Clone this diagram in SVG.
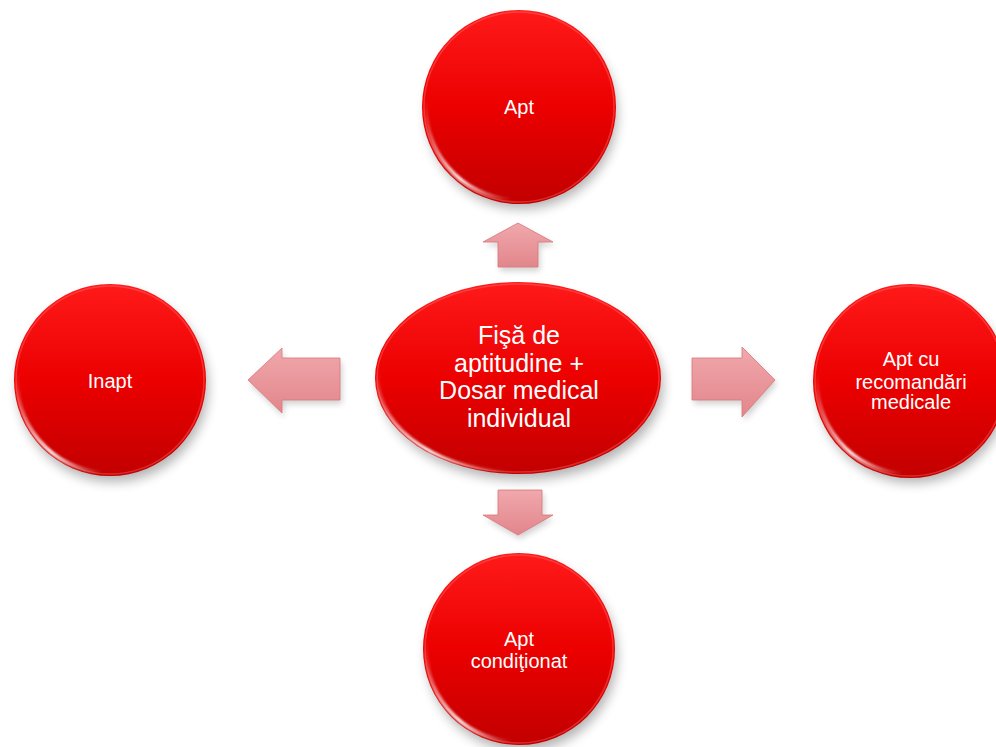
<svg xmlns="http://www.w3.org/2000/svg" width="996" height="747" viewBox="0 0 996 747">
<defs>
<linearGradient id="red" x1="0" y1="0" x2="0" y2="1">
<stop offset="0" stop-color="#ff1a1a"/>
<stop offset="0.5" stop-color="#ec0000"/>
<stop offset="1" stop-color="#c20000"/>
</linearGradient>
<linearGradient id="rim" x1="1" y1="1" x2="0" y2="0">
<stop offset="0" stop-color="#ffffff" stop-opacity="0"/>
<stop offset="0.4" stop-color="#ffffff" stop-opacity="0.95"/>
<stop offset="1" stop-color="#ffffff" stop-opacity="0"/>
</linearGradient>
<linearGradient id="pinkH" x1="0" y1="0" x2="0" y2="1">
<stop offset="0" stop-color="#f0a8ac"/>
<stop offset="1" stop-color="#e2868b"/>
</linearGradient>
<filter id="sh" x="-30%" y="-30%" width="160%" height="160%">
<feGaussianBlur stdDeviation="6"/>
</filter>
<filter id="ash" x="-30%" y="-30%" width="160%" height="160%">
<feGaussianBlur stdDeviation="3"/>
</filter>
<filter id="soft" x="-30%" y="-30%" width="160%" height="160%">
<feGaussianBlur stdDeviation="0.8"/>
</filter>
<path id="arc" d="M-8,92.6 A93,93 0 0 1 -92.6,-8"/>
</defs>
<style>
.node{fill:url(#red);}
.rim{fill:none;stroke:url(#rim);stroke-width:3.5;stroke-linecap:round;filter:url(#soft);}
.toprim{fill:none;stroke:#ff8080;stroke-opacity:0.35;stroke-width:1.5;}
.shadow{fill:#000;opacity:0.3;filter:url(#sh);}
.arrow{fill:url(#pinkH);stroke:#d9767c;stroke-width:0.8;}
.ashadow{fill:#000;opacity:0.18;filter:url(#ash);}
.t{fill:#fff;font-family:"Liberation Sans",Arial,sans-serif;text-anchor:middle;}
</style>
<rect width="996" height="747" fill="#fff"/>
<g id="connectors">
<path class="ashadow" d="M519,227 L556,246 L540,246 L540,271 L500,271 L500,246 L484,246 Z"/>
<path class="arrow" d="M518,223 L553,242 L538,242 L538,267 L498,267 L498,242 L483,242 Z"/>
<path class="ashadow" d="M250,384 L284,352 L284,362 L342,362 L342,404 L284,404 L284,417 Z"/>
<path class="arrow" d="M248,380 L282,348 L282,358 L340,358 L340,400 L282,400 L282,413 Z"/>
<path class="ashadow" d="M694,362 L744,362 L744,351 L777,384 L744,421 L744,404 L694,404 Z"/>
<path class="arrow" d="M692,358 L742,358 L742,347 L775,380 L742,417 L742,400 L692,400 Z"/>
<path class="ashadow" d="M500,494 L544,494 L544,519 L555,519 L520,539 L485,519 L500,519 Z"/>
<path class="arrow" d="M498,490 L542,490 L542,515 L553,515 L518,535 L483,515 L498,515 Z"/>
</g>
<g id="center">
<ellipse class="shadow" cx="522" cy="386" rx="141" ry="94"/>
<ellipse class="node" cx="518" cy="378" rx="143" ry="96"/>
<ellipse class="toprim" cx="518" cy="378" rx="141" ry="94"/>
<use href="#arc" class="rim" transform="translate(518,378) scale(1.51,1.01)" style="stroke-width:2.8"/>
<text class="t" font-size="25"><tspan x="519" y="344">Fişă de</tspan><tspan x="519" y="371.5">aptitudine +</tspan><tspan x="519" y="399">Dosar medical</tspan><tspan x="519" y="426.5">individual</tspan></text>
</g>
<g id="apt">
<circle class="shadow" cx="522" cy="114" r="95"/>
<circle class="node" cx="519" cy="107" r="97"/>
<circle class="toprim" cx="519" cy="107" r="95"/>
<use href="#arc" class="rim" transform="translate(519,107)"/>
<text class="t" font-size="20" x="519" y="114">Apt</text>
</g>
<g id="inapt">
<circle class="shadow" cx="113" cy="387" r="95"/>
<circle class="node" cx="110" cy="380" r="96"/>
<circle class="toprim" cx="110" cy="380" r="94"/>
<use href="#arc" class="rim" transform="translate(110,380)"/>
<text class="t" font-size="20" x="110" y="388">Inapt</text>
</g>
<g id="apt-recomandari">
<circle class="shadow" cx="913" cy="388" r="95"/>
<circle class="node" cx="910" cy="381" r="97"/>
<circle class="toprim" cx="910" cy="381" r="95"/>
<use href="#arc" class="rim" transform="translate(910,381)"/>
<text class="t" font-size="20"><tspan x="911" y="366">Apt cu</tspan><tspan x="911" y="389">recomandări</tspan><tspan x="911" y="409">medicale</tspan></text>
</g>
<g id="apt-conditionat">
<circle class="shadow" cx="522" cy="656" r="95"/>
<circle class="node" cx="519" cy="649" r="96"/>
<circle class="toprim" cx="519" cy="649" r="94"/>
<use href="#arc" class="rim" transform="translate(519,649)"/>
<text class="t" font-size="20"><tspan x="519" y="646">Apt</tspan><tspan x="519" y="668">condiţionat</tspan></text>
</g>
</svg>
